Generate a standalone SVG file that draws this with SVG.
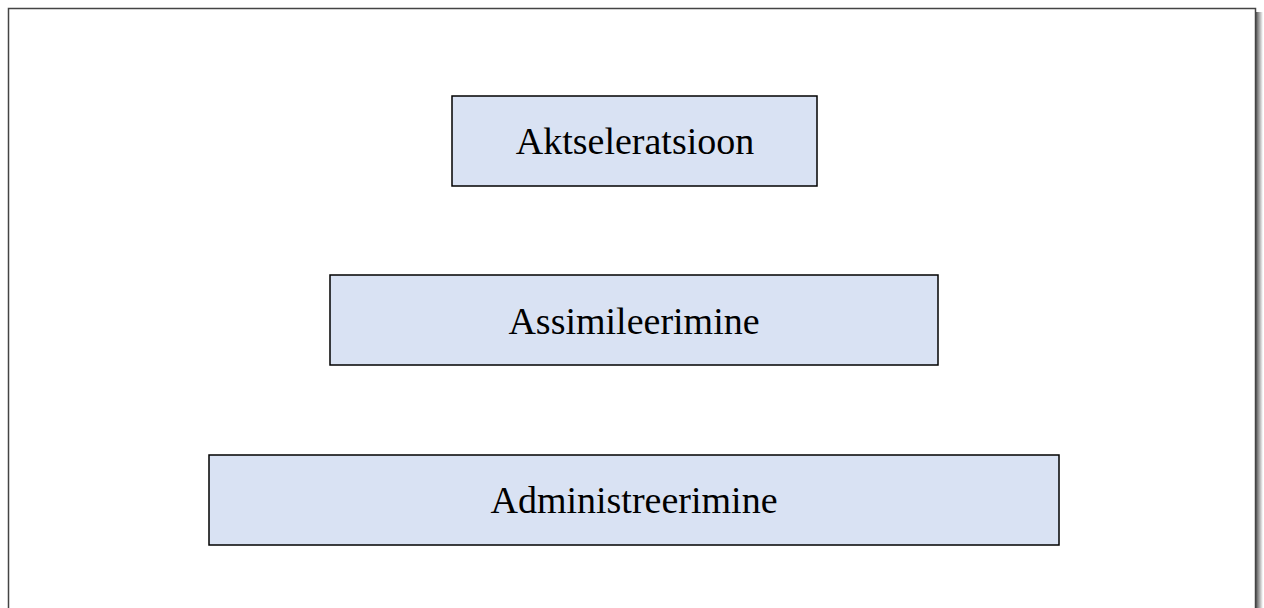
<svg xmlns="http://www.w3.org/2000/svg" width="1264" height="608" viewBox="0 0 1264 608">
<defs>
<style>
.box{fill:#d9e2f3;stroke:#000;stroke-width:1.5}
.lbl{font-family:"Liberation Serif","Times New Roman",serif;font-size:38px;fill:#000;text-anchor:middle}
</style>
<linearGradient id="sh" x1="0" x2="1" y1="0" y2="0">
<stop offset="0" stop-color="#555"/>
<stop offset="1" stop-color="#fff"/>
</linearGradient>
</defs>
<rect width="1264" height="608" fill="#fff"/>
<rect x="1256" y="12" width="7" height="596" fill="url(#sh)"/>
<rect x="8.5" y="8.5" width="1247" height="610" fill="#fff" stroke="#444" stroke-width="1.5"/>
<g id="node-aktseleratsioon">
<rect class="box" x="452" y="96" width="365" height="90"/>
<text class="lbl" x="635" y="154">Aktseleratsioon</text>
</g>
<g id="node-assimileerimine">
<rect class="box" x="330" y="275" width="608" height="90"/>
<text class="lbl" x="634" y="334">Assimileerimine</text>
</g>
<g id="node-administreerimine">
<rect class="box" x="209" y="455" width="850" height="90"/>
<text class="lbl" x="634" y="513">Administreerimine</text>
</g>
<g id="connectors"/>
</svg>
